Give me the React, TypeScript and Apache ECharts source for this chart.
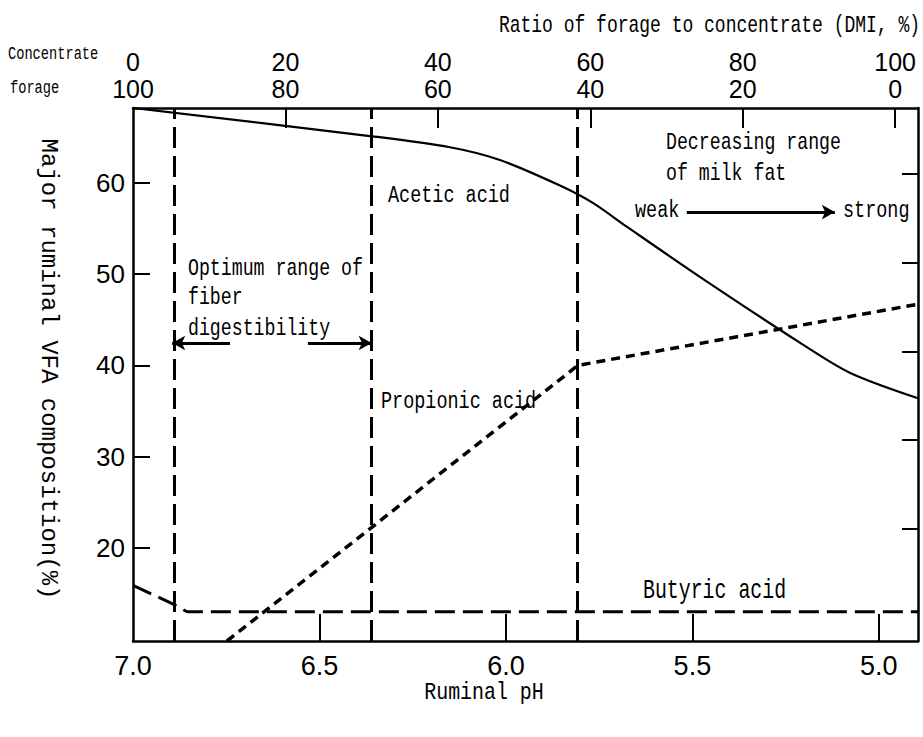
import React, { useEffect, useRef } from "react";
import * as echarts from "echarts";

// Axis tick values
const phTicks = [7.0, 6.5, 6.0, 5.5, 5.0];
const phInnerTicks = [6.5, 6.0, 5.5, 5.0];
const vfaTicks = [20, 30, 40, 50, 60];
const concentrateTicks = [0, 20, 40, 60, 80, 100];
const concentrateInnerTicks = [20, 40, 60, 80, 100];

// Acetic acid (% of total VFA) against ruminal pH
const aceticPH = [7.0, 6.359, 6.15, 6.016, 5.855, 5.767, 5.676, 5.48, 5.212, 5.078, 4.895];
const aceticVFA = [68.2, 65.1, 63.9, 62.5, 59.7, 57.8, 55.2, 49.7, 42.5, 39.2, 36.4];

// Propionic acid
const propionicPH = [6.748, 5.807, 4.895];
const propionicVFA = [9.8, 40.0, 46.7];

// Butyric acid
const butyricPH = [7.0, 6.895, 6.855, 4.895];
const butyricVFA = [15.9, 13.9, 13.0, 13.0];

// pH boundaries of the fiber-digestibility and milk-fat ranges
const rangeBoundsPH = [6.895, 6.36, 5.81];

// Arrow annotations: [startPH, endPH, level]
const fiberArrowLeft = [6.74, 6.895, 42.45];
const fiberArrowRight = [6.531, 6.36, 42.45];
const milkFatArrow = [5.515, 5.118, 56.8];

const NUM_FONT = "'Liberation Sans', Arial, sans-serif";
const TXT_FONT = "'Liberation Mono', 'DejaVu Sans Mono', monospace";

const text = (
  content: string,
  x: number,
  y: number,
  size: number,
  sx: number,
  align: "left" | "center" | "right" = "left",
  rotation = 0
) => ({
  type: "text",
  x,
  y,
  scaleX: sx,
  rotation,
  silent: true,
  style: {
    text: content,
    x: 0,
    y: 0,
    fill: "#000",
    fontSize: size,
    fontFamily: TXT_FONT,
    align,
    textAlign: align,
    verticalAlign: "middle",
    textVerticalAlign: "middle",
  },
});

const axisLine = { show: true, onZero: false, lineStyle: { color: "#000", width: 2.5 } };

const arrowLine = (a: number[]) => [
  { coord: [a[0], a[2]] },
  { coord: [a[1], a[2]] },
];

const option = {
  animation: false,
  backgroundColor: "#fff",
  grid: { left: 133, right: 5, top: 108, bottom: 96 },
  xAxis: [
    {
      type: "value",
      position: "bottom",
      min: 4.895,
      max: 7.0,
      inverse: true,
      axisLine,
      splitLine: { show: false },
      axisTick: {
        show: true,
        inside: true,
        length: 27,
        customValues: phInnerTicks,
        lineStyle: { color: "#000", width: 2 },
      },
      axisLabel: {
        customValues: phTicks,
        formatter: (v: number) => v.toFixed(1),
        color: "#000",
        fontSize: 27,
        fontFamily: NUM_FONT,
        margin: 11,
      },
    },
    {
      type: "value",
      position: "top",
      min: 0,
      max: 103,
      axisLine,
      splitLine: { show: false },
      axisTick: {
        show: true,
        inside: true,
        length: 20,
        customValues: concentrateInnerTicks,
        lineStyle: { color: "#000", width: 2 },
      },
      axisLabel: {
        customValues: concentrateTicks,
        formatter: (v: number) => `${v}\n${100 - v}`,
        color: "#000",
        fontSize: 25,
        lineHeight: 27,
        fontFamily: NUM_FONT,
        margin: 6,
      },
    },
  ],
  yAxis: [
    {
      type: "value",
      position: "left",
      min: 9.8,
      max: 68.2,
      axisLine,
      splitLine: { show: false },
      axisTick: {
        show: true,
        inside: true,
        length: 17,
        customValues: vfaTicks,
        lineStyle: { color: "#000", width: 2 },
      },
      axisLabel: {
        customValues: vfaTicks,
        color: "#000",
        fontSize: 26,
        fontFamily: NUM_FONT,
        margin: 8,
      },
    },
    {
      type: "value",
      position: "right",
      min: 7.4,
      max: 67.4,
      axisLine,
      splitLine: { show: false },
      axisTick: {
        show: true,
        inside: true,
        length: 16,
        customValues: vfaTicks,
        lineStyle: { color: "#000", width: 2 },
      },
      axisLabel: { show: false },
    },
  ],
  series: [
    {
      name: "Acetic acid",
      type: "line",
      xAxisIndex: 0,
      yAxisIndex: 0,
      symbol: "none",
      smooth: 0.3,
      lineStyle: { color: "#000", width: 2.2, type: "solid" },
      data: aceticPH.map((p, i) => [p, aceticVFA[i]]),
      markLine: {
        silent: true,
        symbol: "none",
        label: { show: false },
        lineStyle: { color: "#000", width: 3, type: [21, 8] },
        data: rangeBoundsPH.map((p) => ({ xAxis: p })),
      },
    },
    {
      name: "Propionic acid",
      type: "line",
      xAxisIndex: 0,
      yAxisIndex: 0,
      symbol: "none",
      lineStyle: { color: "#000", width: 3.5, type: [9, 6] },
      data: propionicPH.map((p, i) => [p, propionicVFA[i]]),
      markLine: {
        silent: true,
        symbol: ["none", "arrow"],
        symbolSize: [11, 13],
        label: { show: false },
        lineStyle: { color: "#000", width: 3, type: "solid" },
        data: [arrowLine(fiberArrowLeft), arrowLine(fiberArrowRight), arrowLine(milkFatArrow)],
      },
    },
    {
      name: "Butyric acid",
      type: "line",
      xAxisIndex: 0,
      yAxisIndex: 0,
      symbol: "none",
      lineStyle: { color: "#000", width: 3, type: [20, 8] },
      data: butyricPH.map((p, i) => [p, butyricVFA[i]]),
    },
  ],
  graphic: [
    text("Ratio of forage to concentrate (DMI, %)", 920, 25, 24, 0.75, "right"),
    text("Concentrate", 8, 54, 19, 0.72),
    text("forage", 10, 88, 19, 0.72),
    text("Ruminal pH", 484, 693, 24, 0.83, "center"),
    text("Major ruminal VFA composition(%)", 48, 369, 24, 1, "center", -Math.PI / 2),
    text("Acetic acid", 388, 195, 24, 0.77),
    text("Propionic acid", 381, 401, 24, 0.77),
    text("Optimum range of", 188, 268, 24, 0.76),
    text("fiber", 188, 297, 24, 0.76),
    text("digestibility", 188, 328, 24, 0.76),
    text("Decreasing range", 666, 142, 24, 0.76),
    text("of milk fat", 666, 173, 24, 0.76),
    text("weak", 635, 210, 24, 0.77),
    text("strong", 843, 210, 24, 0.77),
    text("Butyric acid", 643, 591, 28, 0.71),
  ],
};

export default function App() {
  const ref = useRef<HTMLDivElement>(null);
  useEffect(() => {
    if (!ref.current) return;
    const chart = echarts.init(ref.current, null, { renderer: "svg" });
    chart.setOption(option as any);
    return () => chart.dispose();
  }, []);
  return (
    <div
      ref={ref}
      style={{ position: "fixed", left: 0, top: 0, width: 923, height: 737 }}
    />
  );
}
